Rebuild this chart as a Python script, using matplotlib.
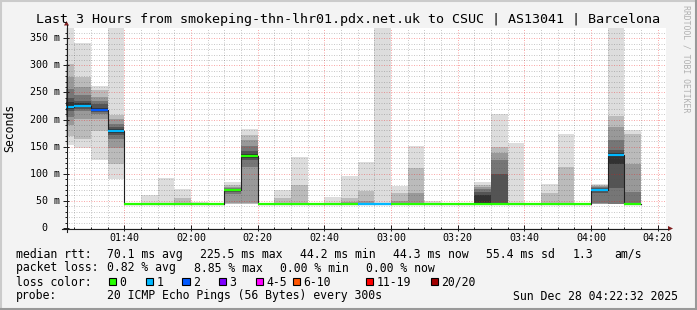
import numpy as np
import matplotlib
matplotlib.use("Agg")
import matplotlib.pyplot as plt
from matplotlib import transforms as mtransforms
from matplotlib.patches import Rectangle, Polygon
from matplotlib.ticker import MultipleLocator

# 5 minute slots (end time of each slot)
slot_end = ["01:25", "01:30", "01:35", "01:40", "01:45", "01:50", "01:55",
            "02:00", "02:05", "02:10", "02:15", "02:20", "02:25", "02:30",
            "02:35", "02:40", "02:45", "02:50", "02:55", "03:00", "03:05",
            "03:10", "03:15", "03:20", "03:25", "03:30", "03:35", "03:40",
            "03:45", "03:50", "03:55", "04:00", "04:05", "04:10", "04:15"]

median_ms = [223.6, 225.5, 218.0, 179.0, 44.3, 44.3, 44.3, 44.4, 44.3, 44.2,
             70.6, 133.2, 44.3, 44.3, 44.4, 44.3, 44.3, 44.4, 44.3, 44.3,
             44.4, 44.4, 44.3, 44.3, 44.3, 44.3, 44.3, 44.3, 44.3, 44.3,
             44.3, 44.3, 70.6, 133.9, 44.3]

loss_count = [1, 1, 2, 1, 0, 0, 0, 0, 0, 0,
              0, 0, 0, 0, 0, 0, 0, 0, 1, 1,
              0, 0, 0, 0, 0, 0, 0, 0, 0, 0,
              0, 0, 1, 1, 0]

flat = [44.0, 44.1, 44.1, 44.2, 44.2, 44.3, 44.3, 44.4, 44.4, 44.5, 44.6, 44.8]

# sorted ping rtts per slot (ms), smoke is drawn between pairs
pings_ms = [
    [154, 170, 190, 205, 215, 220, 232, 240, 257, 279, 302, 400],
    [148, 165, 202, 215, 220, 224, 230, 235, 245, 260, 279, 341],
    [126, 179, 202, 210, 214, 216, 222, 228, 235, 242, 255, 262],
    [90, 119, 147, 165, 172, 176, 182, 186, 192, 202, 209, 400],
    flat,
    [44.0, 44.1, 44.2, 44.2, 44.3, 44.3, 44.4, 44.5, 44.6, 44.8, 45.2, 61],
    [44.0, 44.1, 44.2, 44.2, 44.3, 44.3, 44.4, 44.5, 44.6, 44.9, 45.6, 92],
    [44.0, 44.1, 44.2, 44.3, 44.3, 44.4, 44.5, 44.6, 44.9, 46.0, 56, 72],
    [44.0, 44.1, 44.1, 44.2, 44.2, 44.3, 44.3, 44.4, 44.5, 44.7, 45.2, 47.5],
    [44.0, 44.1, 44.1, 44.2, 44.2, 44.3, 44.3, 44.4, 44.5, 44.6, 45.0, 46.5],
    [44, 45, 46, 62, 66, 69, 71.5, 72.5, 74, 76, 79, 85],
    [44, 45, 46, 113, 126, 130, 137, 142, 151, 162, 171, 182],
    flat,
    [44.0, 44.1, 44.2, 44.3, 44.3, 44.4, 44.5, 44.6, 44.8, 45.5, 55, 70],
    [44.0, 44.1, 44.2, 44.3, 44.3, 44.4, 44.5, 44.6, 44.8, 46, 80, 131],
    flat,
    [44.0, 44.1, 44.2, 44.2, 44.3, 44.3, 44.4, 44.5, 44.6, 44.8, 45.5, 58],
    [44.0, 44.1, 44.2, 44.3, 44.3, 44.4, 44.5, 44.7, 45.0, 48, 55, 96],
    [44.0, 44.1, 44.2, 44.3, 44.3, 44.4, 44.5, 44.7, 45.0, 50, 68, 122],
    [44.0, 44.1, 44.2, 44.3, 44.3, 44.4, 44.5, 44.6, 44.8, 45.0, 46, 400],
    [44.0, 44.1, 44.2, 44.3, 44.3, 44.4, 44.5, 44.6, 44.8, 50, 65, 77],
    [44.0, 44.1, 44.2, 44.3, 44.3, 44.4, 44.5, 44.6, 44.8, 64, 111, 151],
    [44.0, 44.1, 44.1, 44.2, 44.2, 44.3, 44.3, 44.4, 44.5, 44.7, 46, 50],
    flat,
    flat,
    [44.0, 44.0, 44.0, 44.0, 44.0, 44.2, 60, 66, 72, 76, 80, 84],
    [44.0, 44.0, 44.0, 44.0, 44.0, 44.2, 47, 100, 125, 138, 150, 210],
    [44.0, 44.1, 44.2, 44.3, 44.3, 44.4, 44.5, 44.6, 44.8, 45.0, 46, 157],
    flat,
    [44.0, 44.1, 44.2, 44.3, 44.3, 44.4, 44.5, 44.6, 44.8, 45.5, 64, 82],
    [44.0, 44.1, 44.2, 44.3, 44.3, 44.4, 44.5, 44.6, 44.8, 46, 112, 173],
    flat,
    [44, 44, 45, 46, 64, 68, 71.5, 73, 75, 77, 79, 80.5],
    [44, 44, 44, 44, 74, 119, 138, 144, 162, 187, 207, 400],
    [44.0, 44.0, 44.1, 44.2, 44.3, 44.3, 44.5, 44.6, 67, 119, 174, 181],
]

loss_names = ["0", "1", "2", "3", "4-5", "6-10", "11-19", "20/20"]
loss_colors = ["#26ff00", "#00b8ff", "#0059ff", "#7e00ff", "#ff00ff",
               "#ff5500", "#ff0000", "#a10000"]

title = "Last 3 Hours from smokeping-thn-lhr01.pdx.net.uk to CSUC | AS13041 | Barcelona"
start_time = "01:22:32"
end_time = "04:22:32"
ymax = 369


def to_min(s):
    parts = [int(p) for p in s.split(":")]
    while len(parts) < 3:
        parts.append(0)
    return parts[0] * 60 + parts[1] + parts[2] / 60.0


def fmt_hm(v):
    v = int(round(v))
    return "%02d:%02d" % (v // 60, v % 60)


mono = "DejaVu Sans Mono"
W, H = 697, 310
fig = plt.figure(figsize=(W / 100, H / 100), dpi=100, facecolor="#f3f3f3")
ax = fig.add_axes([66 / W, (H - 228) / H, 600 / W, 200 / H])
ax.set_facecolor("white")
for sp in ax.spines.values():
    sp.set_visible(False)

ends = np.array([to_min(s) for s in slot_end])
starts = ends - 5
pings = np.array(pings_ms, dtype=float)
npairs = pings.shape[1] // 2
greys = np.linspace(221, 50, npairs)

for j in range(npairs):
    lo = pings[:, j]
    hi = pings[:, -1 - j]
    g = greys[j] / 255
    ax.bar(starts, hi - lo, bottom=lo, width=5, align="edge",
           color=(g, g, g), linewidth=0, zorder=1)

# median line
xs = np.append(starts, ends[-1])
ys = np.append(median_ms, median_ms[-1])
ax.plot(xs, ys, drawstyle="steps-post", color="#202020", lw=0.8, zorder=3)
seg_colors = [loss_colors[l] if l < 4 else loss_colors[4] for l in loss_count]
ax.hlines(median_ms, starts, ends, colors=seg_colors, lw=1.6, zorder=4)

ax.set_xlim(to_min(start_time), to_min(end_time))
ax.set_ylim(0, ymax)
ax.xaxis.set_major_locator(MultipleLocator(20))
ax.xaxis.set_minor_locator(MultipleLocator(5))
ax.yaxis.set_major_locator(MultipleLocator(50))
ax.yaxis.set_minor_locator(MultipleLocator(10))
ax.set_axisbelow(False)
ax.grid(which="major", color="#f01010", alpha=0.35, linestyle=(0, (1, 1.5)),
        lw=0.72, zorder=2)
ax.grid(which="minor", color="#505050", alpha=0.3, linestyle=(0, (1, 1.5)),
        lw=0.72, zorder=2)
ax.tick_params(which="major", direction="inout", length=4, width=0.72,
               color="#1f1f1f", labelleft=False, labelbottom=False)
ax.tick_params(which="minor", direction="inout", length=2, width=0.72,
               color="#1f1f1f")

ylab_tr = mtransforms.offset_copy(ax.get_yaxis_transform(), fig=fig, x=-6, units="dots")
for v in range(0, 351, 50):
    lab = "%d m" % v if v else "0  "
    ax.text(0, v, lab, transform=ylab_tr, ha="right", va="center",
            fontsize=7.2, family=mono, color="black")
xlab_tr = mtransforms.offset_copy(ax.get_xaxis_transform(), fig=fig, y=-9.7, units="dots")
for v in np.arange(100, 261, 20):
    ax.text(v, 0, fmt_hm(v), transform=xlab_tr, ha="center", va="center",
            fontsize=7.2, family=mono, color="black")

# overlay in pixel coordinates for frame, axes arrows and legend
ov = fig.add_axes([0, 0, 1, 1], zorder=5)
ov.set_xlim(0, W)
ov.set_ylim(H, 0)
ov.axis("off")
ov.patch.set_alpha(0)

ov.plot([0, W], [1, 1], color="#cbcbcb", lw=1.5)
ov.plot([1, 1], [0, H], color="#cbcbcb", lw=1.5)
ov.plot([0, W], [H - 1, H - 1], color="#999999", lw=1.5)
ov.plot([W - 1, W - 1], [0, H], color="#999999", lw=1.5)

ov.plot([66.5, 66.5], [232, 25], color="#1f1f1f", lw=0.8)
ov.plot([62, 668], [228.5, 228.5], color="#1f1f1f", lw=0.8)
ov.add_patch(Polygon([[64, 25.5], [69, 25.5], [66.5, 21]], closed=True,
                     color="#801f1f", lw=0))
ov.add_patch(Polygon([[668, 226], [668, 231], [673, 228.5]], closed=True,
                     color="#801f1f", lw=0))

ov.text(348, 19.3, title, ha="center", va="center", fontsize=9.6, family=mono)
ov.text(686, 59, "RRDTOOL / TOBI OETIKER", rotation=-90, ha="center",
        va="center", fontsize=5.9, family=mono, color="#b0b0b0")
ov.text(10, 128, "Seconds", rotation=90, ha="center", va="center",
        fontsize=8.3, family=mono)

fs = 8.3
row1 = [(16, "median rtt:"), (107.3, "70.1 ms avg"), (200, "225.5 ms max"),
        (300, "44.2 ms min"), (392.7, "44.3 ms now"), (486, "55.4 ms sd"),
        (572.3, "1.3"), (614, "am/s")]
row2 = [(16, "packet loss:"), (107.3, "0.82 % avg"), (194, "8.85 % max"),
        (280, "0.00 % min"), (366, "0.00 % now")]
row4 = [(16, "probe:"), (107.3, "20 ICMP Echo Pings (56 Bytes) every 300s"),
        (513.3, "Sun Dec 28 04:22:32 2025")]
for y, row in [(254.3, row1), (268, row2), (296, row4)]:
    for x, s in row:
        ov.text(x, y, s, ha="left", va="center", fontsize=fs, family=mono)

ov.text(16, 282.3, "loss color:", ha="left", va="center", fontsize=fs, family=mono)
box_x = [108.7, 145.7, 182.3, 219, 256, 292.7, 365.7, 430.7]
for bx, name, col in zip(box_x, loss_names, loss_colors):
    ov.add_patch(Rectangle((bx, 278), 7.3, 7.3, facecolor=col,
                           edgecolor="black", lw=0.8))
    ov.text(bx + 10.5, 282.3, name, ha="left", va="center", fontsize=fs, family=mono)

fig.savefig("out.png", dpi=100, facecolor=fig.get_facecolor())
